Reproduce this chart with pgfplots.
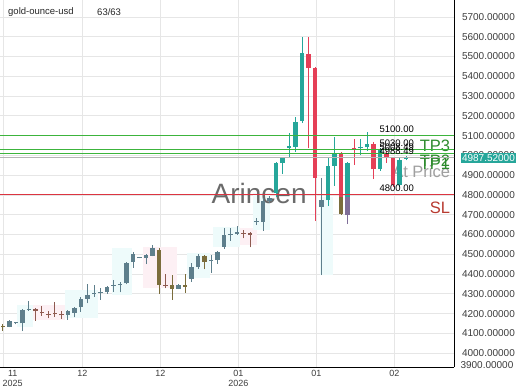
\documentclass[border=0pt]{standalone}
\usepackage{pgfplots}
\pgfplotsset{compat=1.18}
\usepackage{pgfplotstable}
\usepackage{fontspec}
\setmainfont{Liberation Sans}
\definecolor{upc}{HTML}{26A69A}
\definecolor{dnc}{HTML}{E53F57}
\definecolor{gbc}{HTML}{5E7F8C}
\definecolor{olc}{HTML}{7B6D3C}
\definecolor{brc}{HTML}{8E5A50}
\definecolor{puc}{HTML}{7F6E98}
\definecolor{tpg}{HTML}{2E8B2E}
\definecolor{tpl}{HTML}{3CB43C}
\definecolor{prl}{HTML}{B4B4B4}
\definecolor{slr}{HTML}{DC3440}
\definecolor{slt}{HTML}{B83A30}
\definecolor{gridc}{HTML}{E6E6E6}
\definecolor{bandc}{HTML}{EEFBFB}
\definecolor{bandp}{HTML}{FDF0F4}
\definecolor{wmc}{HTML}{5A5A5A}
\definecolor{labc}{HTML}{3C3C3C}

% x lo hi bl bh
\pgfplotstableread{
x lo hi bl bh
1 4131 4166 4134 4161
2 4146 4160 4150 4156
3 4112 4223 4151 4218
4 4215 4264 4219 4225
10 4168 4218 4193 4213
11 4181 4235 4205 4230
12 4210 4285 4232 4275
13 4252 4350 4274 4296
14 4285 4345 4298 4304
15 4269 4328 4305 4311
16 4300 4340 4308 4336
17 4311 4370 4340 4346
18 4308 4358 4344 4350
19 4348 4463 4353 4458
20 4432 4510 4463 4503
21 4479 4485 4479 4485
22 4450 4503 4480 4495
23 4490 4547 4493 4534
27 4322 4350 4326 4346
29 4361 4456 4374 4434
30 4426 4500 4437 4493
32 4407 4497 4466 4472
33 4453 4517 4471 4510
34 4528 4632 4537 4599
35 4569 4632 4599 4605
36 4598 4643 4601 4611
39 4648 4682 4663 4669
40 4618 4785 4665 4771
41 4760 4795 4772 4784
49 4395 4885 4741 4775
}\tabG
\pgfplotstableread{
x lo hi bl bh
0 4112 4145 4130 4137
24 4299 4530 4345 4522
26 4270 4395 4324 4343
28 4306 4399 4336 4345
31 4424 4497 4463 4493
52 4700 4790 4704 4790
}\tabO
\pgfplotstableread{
x lo hi bl bh
5 4164 4228 4212 4225
6 4188 4238 4202 4208
7 4176 4215 4193 4199
8 4183 4259 4197 4203
9 4173 4215 4191 4198
25 4328 4400 4340 4346
37 4581 4623 4604 4610
38 4535 4614 4600 4607
}\tabB
\pgfplotstableread{
x lo hi bl bh
42 4790 4965 4809 4960
43 4906 4992 4962 4989
44 4989 5112 5040 5046
45 5019 5193 5045 5171
46 5163 5598 5176 5517
50 4744 4994 4775 4947
51 4847 5092 4947 5011
53 4790 4969 4790 4960
55 5002 5084 5036 5042
56 5024 5120 5041 5058
58 4922 5040 4930 5025
61 4840 4990 4850 4975
62 4975 4998 4984 4990
}\tabT
\pgfplotstableread{
x lo hi bl bh
53 4653 4790 4699 4790
}\tabP
\pgfplotstableread{
x lo hi bl bh
47 5036 5598 5441 5514
48 4670 5449 4888 5441
52 4790 5019 4790 5011
54 4952 5084 5031 5037
57 4880 5066 4930 5058
59 4962 5024 4994 5014
60 4840 4994 4850 4986
}\tabR

\newcommand{\candles}[2]{%
\addplot[draw=none, mark=none, forget plot, error bars/.cd, y dir=plus, y explicit, error mark=none, error bar style={line width=1bp, draw=#2, solid}] table[x=x, y=lo, y error plus expr=\thisrow{hi}-\thisrow{lo}] {#1};
\addplot[draw=none, mark=none, forget plot, error bars/.cd, y dir=plus, y explicit, error mark=none, error bar style={line width=4.6bp, draw=#2, solid}] table[x=x, y=bl, y error plus expr=\thisrow{bh}-\thisrow{bl}] {#1};
}

\begin{document}
\begin{tikzpicture}
\begin{axis}[
  at={(0,0)}, anchor=south west,
  scale only axis, width=454bp, height=367bp,
  xmin=-0.46, xmax=69.38, ymin=3930, ymax=5786,
  axis x line*=bottom, axis y line*=right,
  axis line style={black, line width=0.9bp, -},
  ytick={4000,4100,...,5700},
  yticklabel pos=right,
  yticklabel style={/pgf/number format/fixed, /pgf/number format/fixed zerofill, /pgf/number format/precision=5, /pgf/number format/1000 sep={}, /pgf/number format/assume math mode=true, font=\fontsize{10bp}{10bp}\selectfont, text=labc, anchor=west, xshift=4.5bp},
  xtick={0,12.2,24.2,36.2,48.2,60.2},
  xticklabels={,12,12,{01\\2026},01,02},
  xticklabel style={font=\fontsize{9bp}{9.5bp}\selectfont, text=labc, align=center},
  extra x ticks={1.5},
  extra x tick labels={{11\\2025}},
  extra x tick style={grid=none},
  extra y ticks={3942,4987.52},
  extra y tick labels={3900.00000,{\setlength\fboxsep{1.5bp}\colorbox{upc}{\color{white}4987.52000}}},
  extra y tick style={grid=none, yticklabel style={xshift=-1.5bp}},
  grid=major, grid style={gridc, line width=0.8bp},
  major tick length=0pt,
  tick style={draw=none},
  clip=true,
]
% background bands
\addplot[forget plot, draw=none, fill=bandc] coordinates {(2.15,4132) (4.6,4132) (4.6,4243) (2.15,4243)};
\addplot[forget plot, draw=none, fill=bandp] coordinates {(4.6,4168) (9.5,4168) (9.5,4243) (4.6,4243)};
\addplot[forget plot, draw=none, fill=bandc] coordinates {(9.5,4177) (14.6,4177) (14.6,4319) (9.5,4319)};
\addplot[forget plot, draw=none, fill=bandc] coordinates {(16.8,4294) (19.8,4294) (19.8,4532) (16.8,4532)};
\addplot[forget plot, draw=none, fill=bandp] coordinates {(21.5,4332) (26.8,4332) (26.8,4537) (21.5,4537)};
\addplot[forget plot, draw=none, fill=bandc] coordinates {(28.3,4380) (31.8,4380) (31.8,4507) (28.3,4507)};
\addplot[forget plot, draw=none, fill=bandc] coordinates {(32.3,4537) (36.5,4537) (36.5,4638) (32.3,4638)};
\addplot[forget plot, draw=none, fill=bandp] coordinates {(36.5,4547) (39,4547) (39,4633) (36.5,4633)};
\addplot[forget plot, draw=none, fill=bandc] coordinates {(38.5,4623) (41,4623) (41,4810) (38.5,4810)};
\addplot[forget plot, draw=none, fill=bandc] coordinates {(48.8,4395) (50.8,4395) (50.8,4790) (48.8,4790)};

% watermark
\node[text=wmc, font=\fontsize{28bp}{28bp}\selectfont, opacity=0.9] at (axis cs:39.4,4808) {Arincen};

% TP / SL labels (behind the candles)
\node[anchor=north east, inner sep=0pt, text=gray!75, font=\fontsize{16.5bp}{16.5bp}\selectfont] at (axis cs:68.8,4952) {At Price};
\node[anchor=north east, inner sep=0pt, text=tpg, font=\fontsize{16.5bp}{16.5bp}\selectfont] at (axis cs:68.8,5078) {TP3};
\node[anchor=north east, inner sep=0pt, text=tpg, font=\fontsize{16.5bp}{16.5bp}\selectfont] at (axis cs:68.8,4986) {TP1};
\node[anchor=north east, inner sep=0pt, text=tpg, font=\fontsize{16.5bp}{16.5bp}\selectfont] at (axis cs:68.8,5003) {TP2};
\node[anchor=north east, inner sep=0pt, text=slt, font=\fontsize{16.5bp}{16.5bp}\selectfont] at (axis cs:68.8,4766) {SL};

% candles
\candles{\tabG}{gbc}
\candles{\tabO}{olc}
\candles{\tabB}{brc}
\candles{\tabT}{upc}
\candles{\tabP}{puc}
\candles{\tabR}{dnc}

% level lines
\addplot[forget plot, mark=none, solid, color=tpl, line width=1bp] coordinates {(-1,5100) (70,5100)};
\addplot[forget plot, mark=none, solid, color=tpl, line width=1bp] coordinates {(-1,5030) (70,5030)};
\addplot[forget plot, mark=none, solid, color=tpl, line width=1bp] coordinates {(-1,5008.49) (70,5008.49)};
\addplot[forget plot, mark=none, solid, color=prl, line width=1bp] coordinates {(-1,4992) (70,4992)};
\addplot[forget plot, mark=none, solid, color=slr, line width=1bp] coordinates {(-1,4800) (70,4800)};

% level value labels
\node[anchor=base west, inner sep=0pt, font=\fontsize{9.5bp}{9.5bp}\selectfont, yshift=3.5bp] at (axis cs:57.9,5100) {5100.00};
\node[anchor=base west, inner sep=0pt, font=\fontsize{9.5bp}{9.5bp}\selectfont, yshift=3bp] at (axis cs:57.9,5030) {5030.00};
\node[anchor=base west, inner sep=0pt, font=\fontsize{9.5bp}{9.5bp}\selectfont, yshift=3bp] at (axis cs:57.9,5008.49) {5008.49};
\node[anchor=base west, inner sep=0pt, font=\fontsize{9.5bp}{9.5bp}\selectfont, yshift=3bp] at (axis cs:57.9,4992) {4988.49};
\node[anchor=base west, inner sep=0pt, font=\fontsize{9.5bp}{9.5bp}\selectfont, yshift=3.5bp] at (axis cs:57.9,4800) {4800.00};

% title
\node[anchor=west, inner sep=0pt, font=\fontsize{9.5bp}{9.5bp}\selectfont, text=black!85] at (rel axis cs:0.0176,0.967) {gold-ounce-usd};
\node[anchor=west, inner sep=0pt, font=\fontsize{9.5bp}{9.5bp}\selectfont, text=black!85] at (rel axis cs:0.2137,0.967) {63/63};
\end{axis}
\pgfresetboundingbox
\path (0,-23bp) rectangle (520bp,367bp);
\end{tikzpicture}
\end{document}
